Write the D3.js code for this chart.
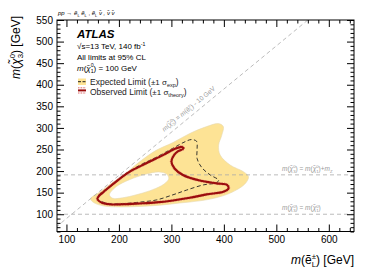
<!DOCTYPE html>
<meta charset="utf-8">
<script src="https://d3js.org/d3.v7.min.js"></script>
<style>
  body { margin: 0; background: #fff; }
  text { font-family: "Liberation Sans", Arial, sans-serif; }
</style>
<div id="chart"></div>
<script>
  // tick labels
  var xTicks = [100, 200, 300, 400, 500, 600];
  var yTicks = [100, 150, 200, 250, 300, 350, 400, 450, 500, 550];

  // expected +-1 sigma band, outer edge (m(eL), m(chi3))
  var bandOuterX = [146, 163, 183, 207, 240, 271, 303, 335, 367, 390, 399, 396, 390, 393, 412, 438, 447, 440, 412, 383, 354, 316, 278, 239, 201, 172, 152];
  var bandOuterY = [136, 151, 169, 189, 222, 248, 266, 287, 303, 310, 303, 283, 260, 237, 214, 198, 187, 170, 149, 137.5, 131, 126, 121, 118, 117, 119, 127];
  // band hole
  var bandHoleX = [182, 195, 220, 252, 276, 291, 295, 290, 281, 258, 233, 207, 188];
  var bandHoleY = [145, 164, 180, 193, 198, 193, 183, 174, 166, 154, 145, 138, 137];

  // expected limit
  var expX = [162, 182, 207, 239, 271, 303, 326, 338, 348, 349, 349, 358, 374, 390, 386, 361, 329, 303, 271, 239, 207, 182, 166, 159];
  var expY = [145, 164, 189, 213, 232, 253, 268, 273, 269, 252, 229, 208, 191, 179, 173, 168, 156, 145, 133, 128, 124.5, 124.5, 130, 137];

  // observed limit
  var obsX = [161, 175, 194, 220, 252, 284, 306, 320, 323, 313, 305, 300, 306, 322, 354, 386, 406, 409, 399, 367, 335, 303, 271, 239, 207, 182, 166, 159];
  var obsY = [141, 156, 175, 198, 218, 237, 251, 256, 252, 246, 237, 222, 206, 191, 178, 171.5, 168, 160, 152, 146, 138, 132, 127.5, 125, 123, 123, 127.5, 135];

  // reference lines
  var diagX = [80, 560];      // m(chi3) = m(eL) - 10
  var mZline = 191.2;        // m(chi1) + mZ
  var mChi1 = 100;

  var W = 381, H = 273;
  var pL = 57, pR = 354, pT = 20, pB = 231.5;

  var svg = d3.select("#chart").append("svg")
    .attr("width", W).attr("height", H);

  var x = d3.scaleLinear().domain([82, 648]).range([pL, pR]);
  var y = d3.scaleLinear().domain([60, 550]).range([pB, pT]);

  svg.append("defs").append("clipPath").attr("id", "clip")
    .append("rect").attr("x", pL).attr("y", pT)
    .attr("width", pR - pL).attr("height", pB - pT);

  var plot = svg.append("g").attr("clip-path", "url(#clip)");

  function pts(xs, ys) { return xs.map(function (d, i) { return [x(d), y(ys[i])]; }); }
  var loop = d3.line().curve(d3.curveCatmullRomClosed.alpha(0.5));

  // yellow band with hole
  plot.append("path")
    .attr("d", loop(pts(bandOuterX, bandOuterY)) + loop(pts(bandHoleX, bandHoleY)))
    .attr("fill", "#fde395")
    .attr("fill-rule", "evenodd")
    .attr("stroke", "#e6d9b0")
    .attr("stroke-width", 0.6);

  // reference lines
  plot.append("line")
    .attr("x1", x(diagX[0])).attr("y1", y(diagX[0] - 10))
    .attr("x2", x(diagX[1])).attr("y2", y(diagX[1] - 10))
    .attr("stroke", "#aaa").attr("stroke-width", 0.8).attr("stroke-dasharray", "4,3");
  [mZline, mChi1].forEach(function (v) {
    plot.append("line")
      .attr("x1", pL).attr("x2", pR).attr("y1", y(v)).attr("y2", y(v))
      .attr("stroke", "#aaa").attr("stroke-width", 0.8).attr("stroke-dasharray", "4,3");
  });

  // expected
  plot.append("path")
    .attr("d", loop(pts(expX, expY)))
    .attr("fill", "none").attr("stroke", "#222").attr("stroke-width", 0.9)
    .attr("stroke-dasharray", "4,2.5");

  // observed: dotted theory fringe + solid line
  plot.append("path")
    .attr("d", loop(pts(obsX, obsY)))
    .attr("fill", "none").attr("stroke", "#e07070").attr("stroke-width", 3.2)
    .attr("stroke-dasharray", "0.7,0.9").attr("opacity", 0.8);
  plot.append("path")
    .attr("d", loop(pts(obsX, obsY)))
    .attr("fill", "none").attr("stroke", "#9b0d0d").attr("stroke-width", 2.1);

  // axes
  function axis(gen, vals, size, tx, ty, labels) {
    var a = gen.tickValues(vals).tickSizeInner(-size).tickSizeOuter(0);
    if (!labels) a.tickFormat("");
    var g = svg.append("g").attr("transform", "translate(" + tx + "," + ty + ")").call(a);
    g.select(".domain").remove();
    g.selectAll("line").attr("stroke", "#000");
    return g;
  }
  var xMinor = d3.range(100, 649, 20).filter(function (d) { return d % 100 != 0; });
  var yMinor = d3.range(60, 551, 10).filter(function (d) { return d % 50 != 0; });

  var gx = axis(d3.axisBottom(x).tickPadding(4), xTicks, 7, 0, pB, true);
  axis(d3.axisBottom(x), xMinor, 3.5, 0, pB, false);
  axis(d3.axisTop(x), xTicks, 7, 0, pT, false);
  axis(d3.axisTop(x), xMinor, 3.5, 0, pT, false);
  var gy = axis(d3.axisLeft(y).tickPadding(4), yTicks, 7, pL, 0, true);
  axis(d3.axisLeft(y), yMinor, 3.5, pL, 0, false);
  axis(d3.axisRight(y), yTicks, 7, pR, 0, false);
  axis(d3.axisRight(y), yMinor, 3.5, pR, 0, false);
  gx.selectAll("text").style("font-size", "10px").attr("fill", "#000").attr("font-family", null);
  gy.selectAll("text").style("font-size", "10px").attr("fill", "#000").attr("font-family", null);

  svg.append("rect").attr("x", pL).attr("y", pT)
    .attr("width", pR - pL).attr("height", pB - pT)
    .attr("fill", "none").attr("stroke", "#000").attr("stroke-width", 1);

  // rich text helper: parts [text, mode], mode: i italic, sup, sub, stack (sub placed under previous sup)
  function rich(t, parts, fs) {
    var off = 0, lastSupW = 0;
    parts.forEach(function (p) {
      var mode = p[1] || "";
      var target = (mode == "sup") ? -0.4 * fs : (mode == "sub" || mode == "stack") ? 0.28 * fs : 0;
      var ts = t.append("tspan").attr("dy", target - off).text(p[0]);
      off = target;
      if (mode == "sup" || mode == "sub" || mode == "stack") ts.style("font-size", (fs * 0.65) + "px");
      if (mode == "i") ts.style("font-style", "italic");
      if (mode == "stack") ts.attr("dx", -lastSupW);
      if (mode == "sup") lastSupW = p[0].length * fs * 0.65 * 0.56;
      if (p[2]) ts.style("font-size", p[2] + "px");
    });
    return t;
  }

  // axis titles
  rich(svg.append("text").attr("transform", "translate(20,16) rotate(-90)")
    .attr("text-anchor", "end").style("font-size", "12px"),
    [["m", "i"], ["(", ""], ["\u03c7\u0303", "i"], ["0", "sup"], ["3", "stack"], [") [GeV]", ""]], 12);
  rich(svg.append("text").attr("x", 354).attr("y", 264)
    .attr("text-anchor", "end").style("font-size", "12px"),
    [["m", "i"], ["(", ""], ["e\u0303", ""], ["\u00b1", "sup"], ["L", "stack"], [") [GeV]", ""]], 12);

  // process label
  rich(svg.append("text").attr("x", 58).attr("y", 15).style("font-size", "6px"),
    [["pp", "i"], [" \u2192 ", ""], ["e\u0303", "i"], ["L", "sub"], [" ", ""], ["e\u0303", "i"], ["L", "sub"], [" , ", ""],
     ["e\u0303", "i"], ["L", "sub"], [" \u03bd\u0303 , \u03bd\u0303 \u03bd\u0303", "i"]], 6);

  // ATLAS block
  svg.append("text").attr("x", 77).attr("y", 38)
    .style("font-size", "11.5px").style("font-weight", "bold").style("font-style", "italic").text("ATLAS");
  rich(svg.append("text").attr("x", 77).attr("y", 49).style("font-size", "8px"),
    [["\u221as=13 TeV, 140 fb", ""], ["-1", "sup"]], 8);
  svg.append("text").attr("x", 77).attr("y", 60).style("font-size", "8px").text("All limits at 95% CL");
  rich(svg.append("text").attr("x", 77).attr("y", 70.5).style("font-size", "8px"),
    [["m", "i"], ["(", ""], ["\u03c7\u0303", "i"], ["0", "sup"], ["1", "stack"], [") = 100 GeV", ""]], 8);

  // legend
  svg.append("rect").attr("x", 78).attr("y", 78.5).attr("width", 8).attr("height", 6.5).attr("fill", "#fde395");
  svg.append("line").attr("x1", 78).attr("x2", 86).attr("y1", 81.7).attr("y2", 81.7)
    .attr("stroke", "#222").attr("stroke-width", 1).attr("stroke-dasharray", "3,1.5");
  [87.8, 93].forEach(function (v) {
    svg.append("line").attr("x1", 78).attr("x2", 86).attr("y1", v).attr("y2", v)
      .attr("stroke", "#d03030").attr("stroke-width", 0.9).attr("stroke-dasharray", "0.8,0.8");
  });
  svg.append("line").attr("x1", 78).attr("x2", 86).attr("y1", 90.4).attr("y2", 90.4)
    .attr("stroke", "#9b0d0d").attr("stroke-width", 2);
  rich(svg.append("text").attr("x", 90).attr("y", 84.5).style("font-size", "8.5px").attr("fill", "#222"),
    [["Expected Limit (", ""], ["\u00b11 \u03c3", "", 8], ["exp", "sub"], [")", ""]], 8.5);
  rich(svg.append("text").attr("x", 90).attr("y", 94.5).style("font-size", "8.5px").attr("fill", "#222"),
    [["Observed Limit (", ""], ["\u00b11 \u03c3", "", 8], ["theory", "sub"], [")", ""]], 8.5);

  // reference line labels
  var ang = Math.atan2(y(550) - y(70), x(560) - x(80)) * 180 / Math.PI;
  rich(svg.append("text")
    .attr("transform", "translate(" + (x(292) - 3) + "," + (y(282) - 4) + ") rotate(" + ang + ")")
    .style("font-size", "6.5px").attr("fill", "#999"),
    [["m", "i"], ["(", ""], ["\u03c7\u0303", "i"], ["0", "sup"], ["3", "stack"], [") = ", ""], ["m", "i"], ["(", ""],
     ["e\u0303", ""], ["\u00b1", "sup"], ["L", "stack"], [") - 10 GeV", ""]], 6.5);
  rich(svg.append("text").attr("x", 282).attr("y", y(mZline) - 4).style("font-size", "6.5px").attr("fill", "#999"),
    [["m", "i"], ["(", ""], ["\u03c7\u0303", "i"], ["0", "sup"], ["3", "stack"], [") = ", ""], ["m", "i"], ["(", ""],
     ["\u03c7\u0303", "i"], ["0", "sup"], ["1", "stack"], [")+", ""], ["m", "i"], ["Z", "sub"]], 6.5);
  rich(svg.append("text").attr("x", 282).attr("y", y(mChi1) - 4).style("font-size", "6.5px").attr("fill", "#999"),
    [["m", "i"], ["(", ""], ["\u03c7\u0303", "i"], ["0", "sup"], ["3", "stack"], [") = ", ""], ["m", "i"], ["(", ""],
     ["\u03c7\u0303", "i"], ["0", "sup"], ["1", "stack"], [")", ""]], 6.5);
</script>
